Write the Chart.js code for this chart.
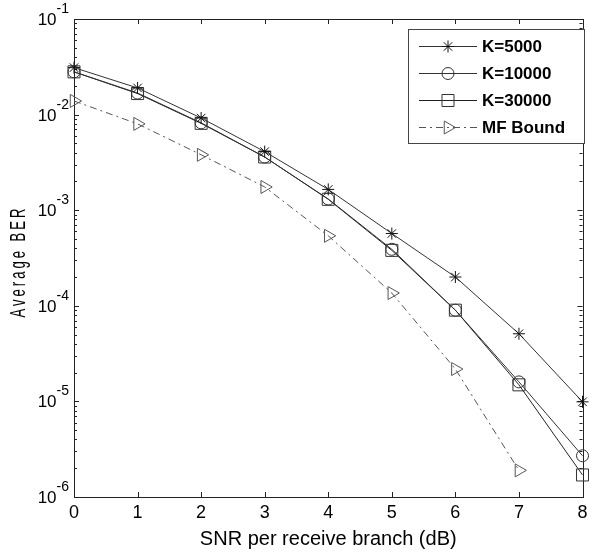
<!DOCTYPE html>
<html>
<head>
<meta charset="utf-8">
<script src="https://cdn.jsdelivr.net/npm/chart.js@4.4.0/dist/chart.umd.min.js"></script>
<style>
  html, body { margin: 0; padding: 0; background: #fff; }
</style>
</head>
<body>
<canvas id="ber-chart" width="592" height="553"></canvas>
<script>
// data
const snr = [0, 1, 2, 3, 4, 5, 6, 7, 8]
const berK5000 = [0.031, 0.019, 0.0092, 0.0041, 0.00165, 0.00057, 0.0002, 0.000051, 0.0000099]
const berK10000 = [0.028, 0.0168, 0.0082, 0.0036, 0.00131, 0.00039, 0.00009, 0.000016, 0.0000027]
const berK30000 = [0.028, 0.0166, 0.0081, 0.0036, 0.0013, 0.00038, 0.00009, 0.0000149, 0.0000017]
const berMF = [0.0139, 0.008, 0.0038, 0.00175, 0.00054, 0.000136, 0.0000218, 0.0000019]
const seriesNames = ["K=5000", "K=10000", "K=30000", "MF Bound"]
const xTicks = [0, 1, 2, 3, 4, 5, 6, 7, 8]
const yTickExponents = [-6, -5, -4, -3, -2, -1]
const xTitle = "SNR per receive branch (dB)"
const yTitle = "Average BER"

const FONT = '"Liberation Sans", Arial, sans-serif'
const AXIS_COLOR = "#222"

function toPoints(ys) {
  return ys.map((y, i) => ({ x: snr[i], y: y }))
}

function makeDataset(label, ys, style) {
  return Object.assign({
    label: label,
    data: toPoints(ys),
    borderWidth: 1,
    pointBorderWidth: 1,
    pointBackgroundColor: "transparent",
    backgroundColor: "transparent",
    fill: false,
    tension: 0,
    clip: false
  }, style)
}

const datasets = [
  makeDataset(seriesNames[0], berK5000, { borderColor: "#333", pointBorderColor: "#111", pointStyle: "star", pointRadius: 6 }),
  makeDataset(seriesNames[1], berK10000, { borderColor: "#333", pointBorderColor: "#333", pointStyle: "circle", pointRadius: 6 }),
  makeDataset(seriesNames[2], berK30000, { borderColor: "#222", pointBorderColor: "#333", pointStyle: "rect", pointRadius: 8.5 }),
  makeDataset(seriesNames[3], berMF, { borderColor: "#555", pointBorderColor: "#555", pointStyle: "triangle", pointRotation: 90, pointRadius: 7.5, borderDash: [7, 4, 2, 4] })
]

// MATLAB-like axes box, inward ticks, labels and legend
const matlabAxes = {
  id: "matlabAxes",
  beforeDatasetsDraw(chart) {
    const ctx = chart.ctx
    const a = chart.chartArea
    const xs = chart.scales.x
    const ys = chart.scales.y
    ctx.save()
    ctx.strokeStyle = AXIS_COLOR
    ctx.lineWidth = 1
    ctx.strokeRect(Math.round(a.left) + 0.5, Math.round(a.top) + 0.5, Math.round(a.right - a.left), Math.round(a.bottom - a.top))
    ctx.beginPath()
    xTicks.forEach(t => {
      const px = Math.round(xs.getPixelForValue(t)) + 0.5
      ctx.moveTo(px, a.bottom); ctx.lineTo(px, a.bottom - 5)
      ctx.moveTo(px, a.top); ctx.lineTo(px, a.top + 5)
    })
    yTickExponents.forEach(e => {
      const py = Math.round(ys.getPixelForValue(Math.pow(10, e))) + 0.5
      ctx.moveTo(a.left, py); ctx.lineTo(a.left + 5, py)
      ctx.moveTo(a.right, py); ctx.lineTo(a.right - 5, py)
      if (e < yTickExponents[yTickExponents.length - 1]) {
        for (let m = 2; m <= 9; m++) {
          const my = Math.round(ys.getPixelForValue(m * Math.pow(10, e))) + 0.5
          ctx.moveTo(a.left, my); ctx.lineTo(a.left + 3, my)
          ctx.moveTo(a.right, my); ctx.lineTo(a.right - 3, my)
        }
      }
    })
    ctx.stroke()
    ctx.restore()
  },
  afterDatasetsDraw(chart) {
    const ctx = chart.ctx
    const a = chart.chartArea
    const xs = chart.scales.x
    const ys = chart.scales.y
    ctx.save()
    ctx.fillStyle = "#000"
    ctx.textBaseline = "alphabetic"

    // x tick labels
    ctx.font = "18px " + FONT
    ctx.textAlign = "center"
    xTicks.forEach(t => {
      ctx.fillText(String(t), xs.getPixelForValue(t), a.bottom + 21)
    })

    // y tick labels 10^e
    yTickExponents.forEach(e => {
      const py = ys.getPixelForValue(Math.pow(10, e))
      const sup = String(e)
      const right = a.left - 5
      ctx.font = "14px " + FONT
      ctx.textAlign = "right"
      ctx.fillText(sup, right, py - 6)
      const supW = ctx.measureText(sup).width
      ctx.font = "17px " + FONT
      ctx.fillText("10", right - supW, py + 6)
    })

    // axis titles
    ctx.font = "20px " + FONT
    ctx.textAlign = "center"
    ctx.fillText(xTitle, (a.left + a.right) / 2, a.bottom + 48)

    ctx.save()
    ctx.font = "22px " + FONT
    ctx.letterSpacing = "5px"
    const w = ctx.measureText(yTitle).width
    ctx.translate(25, 263)
    ctx.rotate(-Math.PI / 2)
    ctx.scale(112 / w, 1)
    ctx.fillText(yTitle, 2.5, 0)
    ctx.restore()

    // legend
    const box = { left: 408.5, top: 29.5, width: 176, height: 114 }
    ctx.fillStyle = "#fff"
    ctx.fillRect(box.left, box.top, box.width, box.height)
    ctx.strokeStyle = "#444"
    ctx.lineWidth = 1
    ctx.strokeRect(box.left, box.top, box.width, box.height)
    chart.data.datasets.forEach((ds, i) => {
      const y = Math.round(box.top + 16 + i * 27) + 0.5
      ctx.save()
      ctx.strokeStyle = ds.borderColor
      ctx.setLineDash(ds.borderDash || [])
      ctx.beginPath()
      ctx.moveTo(419, y); ctx.lineTo(477, y)
      ctx.stroke()
      ctx.restore()
      ctx.save()
      ctx.strokeStyle = ds.pointBorderColor
      ctx.fillStyle = "rgba(0,0,0,0)"
      ctx.lineWidth = 1
      Chart.helpers.drawPoint(ctx, {
        pointStyle: ds.pointStyle,
        rotation: ds.pointRotation || 0,
        radius: ds.pointRadius,
        borderWidth: 1
      }, 448, y)
      ctx.restore()
      ctx.fillStyle = "#000"
      ctx.font = "bold 17px " + FONT
      ctx.textAlign = "left"
      ctx.textBaseline = "middle"
      ctx.fillText(ds.label, 482, y + 1)
    })
    ctx.restore()
  }
}

const chart = new Chart(document.getElementById("ber-chart"), {
  type: "line",
  data: { datasets: datasets },
  options: {
    responsive: false,
    devicePixelRatio: 1,
    animation: false,
    layout: { padding: { left: 74, top: 19, right: 6, bottom: 56 } },
    plugins: { legend: { display: false }, tooltip: { enabled: false } },
    scales: {
      x: { type: "linear", min: 0, max: 8, display: false },
      y: { type: "logarithmic", min: 1e-6, max: 1e-1, display: false }
    }
  },
  plugins: [matlabAxes]
})
</script>
</body>
</html>
